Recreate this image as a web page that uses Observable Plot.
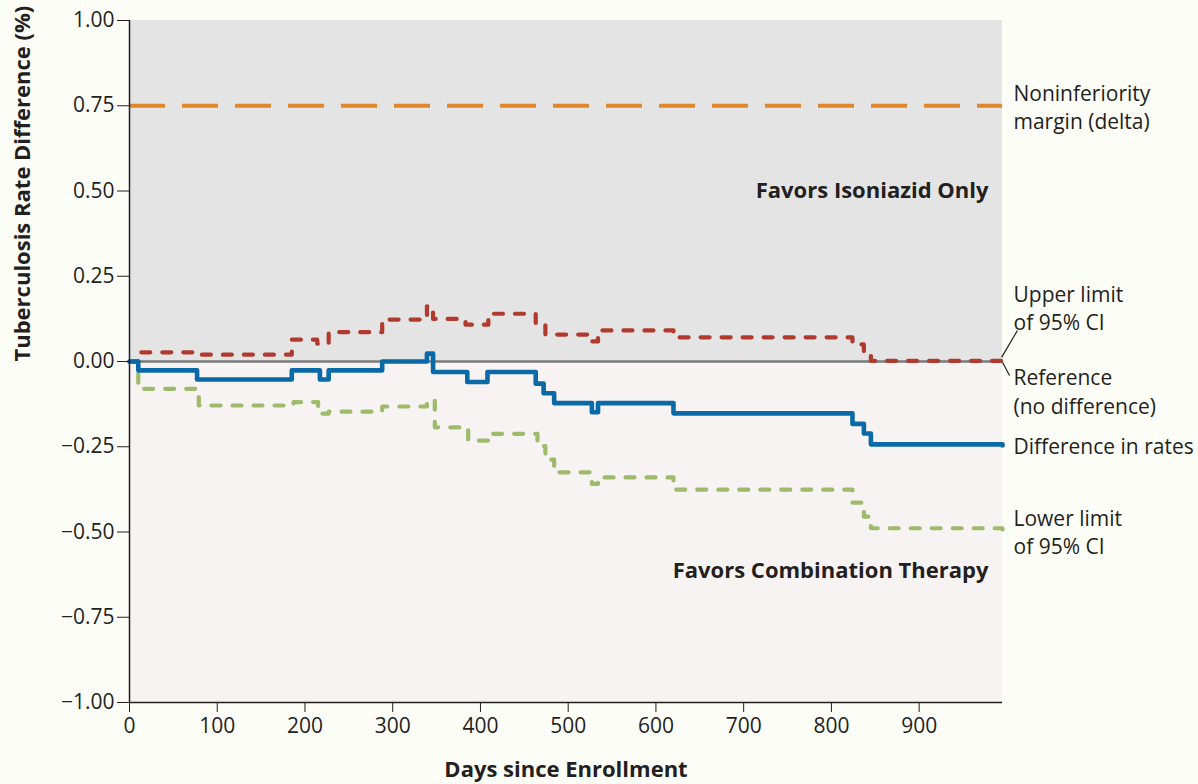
<!DOCTYPE html>
<html>
<head>
<meta charset="utf-8">
<script src="https://cdn.jsdelivr.net/npm/d3@7"></script>
<script src="https://cdn.jsdelivr.net/npm/@observablehq/plot@0.6"></script>
<style>
  html, body { margin: 0; padding: 0; background: #fdfdf8; }
  #chart { width: 1198px; height: 784px; }
</style>
</head>
<body>
<div id="chart"></div>
<script>
// ---- data ----
const diffDays  = [0, 10, 77, 185, 217, 227, 288, 339, 346, 385, 408, 463, 472, 484, 527, 534, 620, 824, 837, 845, 995];
const diffVals  = [0, -0.026, -0.053, -0.026, -0.053, -0.026, 0, 0.023, -0.031, -0.06, -0.031, -0.065, -0.093, -0.122, -0.149, -0.122, -0.152, -0.183, -0.211, -0.243, -0.246];

const upperDays = [0, 10, 81, 185, 214, 227, 288, 339, 346, 383, 409, 463, 474, 527, 534, 620, 824, 837, 845, 995];
const upperVals = [0, 0.027, 0.02, 0.064, 0.052, 0.086, 0.123, 0.162, 0.125, 0.108, 0.14, 0.108, 0.079, 0.059, 0.091, 0.071, 0.05, 0.027, 0.002, 0.012];

const lowerDays = [0, 10, 79, 187, 215, 227, 288, 339, 348, 386, 409, 465, 474, 484, 527, 534, 620, 824, 837, 845, 995];
const lowerVals = [0, -0.08, -0.129, -0.119, -0.153, -0.147, -0.132, -0.114, -0.193, -0.232, -0.212, -0.248, -0.288, -0.325, -0.359, -0.34, -0.376, -0.414, -0.455, -0.489, -0.5];

const margin = 0.75;
const xTicks = [0, 100, 200, 300, 400, 500, 600, 700, 800, 900];
const yTicks = [-1, -0.75, -0.5, -0.25, 0, 0.25, 0.5, 0.75, 1];
const xMax = 995;

const regions = [
  {y1: 0, y2: 1, fill: "#e4e4e4"},
  {y1: -1, y2: 0, fill: "#f8f3f3"}
];
const rightLabels = [
  {y: 0.75, text: "Noninferiority\nmargin (delta)"},
  {y: 0.161, text: "Upper limit\nof 95% CI"},
  {y: -0.085, text: "Reference\n(no difference)"},
  {y: -0.246, text: "Difference in rates"},
  {y: -0.496, text: "Lower limit\nof 95% CI"}
];
const zoneLabels = [
  {x: 979, y: 0.5, text: "Favors Isoniazid Only"},
  {x: 979, y: -0.613, text: "Favors Combination Therapy"}
];
const leaders = [
  {x1: 994, y1: 0.012, x2: 1012, y2: 0.091},
  {x1: 995, y1: -0.002, x2: 1003, y2: -0.041}
];

const toRows = (days, vals) => days.map((d, i) => ({day: d, value: vals[i]}));
const diff = toRows(diffDays, diffVals);
const upper = toRows(upperDays, upperVals);
const lower = toRows(lowerDays, lowerVals);

const fmt = d3.format(".2f");
const FONT = "'Open Sans', 'Noto Sans', sans-serif";

const chart = Plot.plot({
  width: 1198,
  height: 784,
  marginLeft: 129,
  marginRight: 196,
  marginTop: 20,
  marginBottom: 82,
  style: {fontFamily: FONT, fontSize: "21px", background: "#fdfdf8", color: "#231f20"},
  x: {domain: [0, xMax], label: null},
  y: {domain: [-1, 1], label: null},
  marks: [
    Plot.rect(regions, {x1: () => 0, x2: () => xMax, y1: "y1", y2: "y2", fill: "fill"}),
    Plot.ruleY([margin], {stroke: "#e0862a", strokeWidth: 4, strokeDasharray: "36,17"}),
    Plot.ruleY([0], {stroke: "#7a7a7a", strokeWidth: 2.5}),
    Plot.line(lower, {x: "day", y: "value", curve: "step-after", stroke: "#9dbb6a", strokeWidth: 4.2, strokeDasharray: "9,12", strokeLinecap: "round", strokeLinejoin: "round"}),
    Plot.line(upper, {x: "day", y: "value", curve: "step-after", stroke: "#b03a2e", strokeWidth: 4.2, strokeDasharray: "9,12", strokeLinecap: "round", strokeLinejoin: "round"}),
    Plot.line(diff, {x: "day", y: "value", curve: "step-after", stroke: "#0a6aa8", strokeWidth: 4.6, strokeLinecap: "round", strokeLinejoin: "round"}),
    Plot.axisX({ticks: xTicks, tickSize: 10, tickPadding: 6, label: null, stroke: "#231f20", fontSize: 21, fill: "#231f20"}),
    Plot.axisY({ticks: yTicks, tickFormat: fmt, tickSize: 12, tickPadding: 3, label: null, stroke: "#231f20", fontSize: 21, fill: "#231f20"}),
    Plot.ruleX([0], {stroke: "#231f20", strokeWidth: 1.5}),
    Plot.ruleY([-1], {stroke: "#231f20", strokeWidth: 1.5}),
    Plot.link(leaders, {x1: "x1", y1: "y1", x2: "x2", y2: "y2", stroke: "#231f20", strokeWidth: 1.2}),
    Plot.text(rightLabels, {x: () => xMax, y: "y", text: "text", dx: 11, textAnchor: "start", lineHeight: 1.35, fontSize: 21, fill: "#231f20"}),
    Plot.text(zoneLabels, {x: "x", y: "y", text: "text", textAnchor: "end", fontWeight: "bold", fontSize: 22, fill: "#231f20"}),
    Plot.text(["Tuberculosis Rate Difference (%)"], {frameAnchor: "left", rotate: -90, dx: -107, fontWeight: "bold", fontSize: 22, fill: "#231f20"}),
    Plot.text(["Days since Enrollment"], {frameAnchor: "bottom", dy: 74, fontWeight: "bold", fontSize: 22, fill: "#231f20"})
  ]
});
document.getElementById("chart").appendChild(chart);
</script>
</body>
</html>
